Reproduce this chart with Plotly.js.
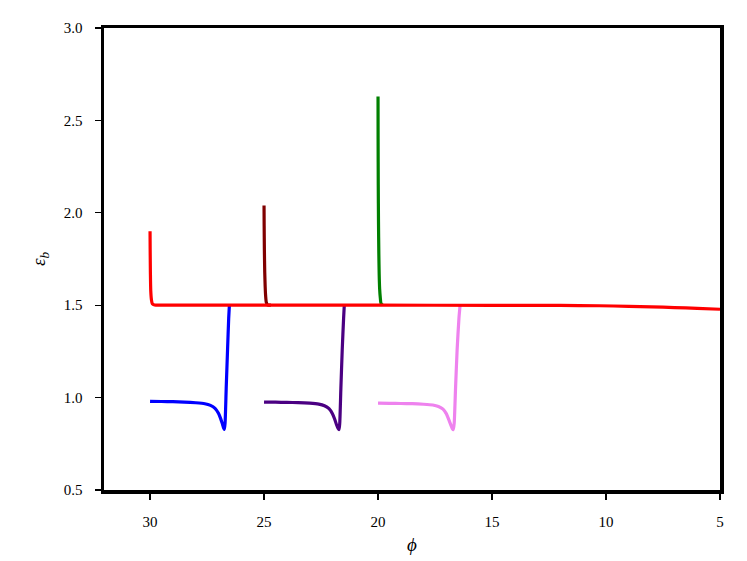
<!DOCTYPE html>
<html>
<head>
<meta charset="utf-8">
<script src="https://cdn.plot.ly/plotly-3.0.1.min.js"></script>
<style>html,body{margin:0;padding:0;background:#fff;}#chart{width:747px;height:561px;}</style>
</head>
<body>
<div id="chart"></div>
<script>
// Upper branches (epsilon_b above 1.5)
const redX = [30, 29.995, 29.985, 29.97, 29.94, 29.9, 29.8, 29.5, 28, 25, 20, 15, 12, 10.3, 9, 8, 7, 6, 5];
const redY = [1.90, 1.80, 1.68, 1.58, 1.53, 1.508, 1.501, 1.5, 1.5, 1.5, 1.5, 1.4995, 1.499, 1.497, 1.494, 1.491, 1.487, 1.483, 1.478];

const maroonX = [25, 24.995, 24.985, 24.97, 24.95, 24.93, 24.9, 24.85, 24.7];
const maroonY = [2.04, 1.93, 1.80, 1.68, 1.60, 1.55, 1.515, 1.502, 1.5];

const greenX = [20, 19.997, 19.99, 19.98, 19.965, 19.95, 19.93, 19.9, 19.87, 19.8];
const greenY = [2.63, 2.40, 2.15, 1.95, 1.78, 1.67, 1.59, 1.54, 1.51, 1.5];

// Lower branches (dip then rise to 1.5)
const blueX = [30, 29.5, 29, 28.5, 28, 27.6, 27.35, 27.15, 27.0, 26.9, 26.82, 26.77, 26.74, 26.71, 26.66, 26.6, 26.55, 26.52];
const blueY = [0.980, 0.979, 0.978, 0.976, 0.972, 0.967, 0.958, 0.942, 0.915, 0.885, 0.855, 0.835, 0.828, 0.86, 1.05, 1.26, 1.43, 1.5];

const indigoX = [25, 24.5, 24, 23.5, 23, 22.6, 22.35, 22.15, 22.0, 21.9, 21.82, 21.75, 21.71, 21.68, 21.63, 21.57, 21.51, 21.48];
const indigoY = [0.976, 0.975, 0.974, 0.973, 0.970, 0.965, 0.956, 0.940, 0.913, 0.883, 0.853, 0.833, 0.827, 0.86, 1.05, 1.26, 1.43, 1.5];

const violetX = [20, 19.5, 19, 18.5, 18, 17.6, 17.35, 17.15, 17.0, 16.9, 16.8, 16.74, 16.70, 16.66, 16.6, 16.53, 16.45, 16.40];
const violetY = [0.970, 0.969, 0.968, 0.967, 0.964, 0.960, 0.952, 0.938, 0.912, 0.882, 0.850, 0.832, 0.826, 0.86, 1.05, 1.26, 1.43, 1.5];

const xTicks = [30, 25, 20, 15, 10, 5];
const yTicks = [0.5, 1.0, 1.5, 2.0, 2.5, 3.0];

function line(x, y, color) {
  return {x: x, y: y, type: 'scatter', mode: 'lines', line: {color: color, width: 3.2, shape: 'spline', smoothing: 0.6}, hoverinfo: 'skip'};
}

const traces = [
  line(maroonX, maroonY, '#800000'),
  line(greenX, greenY, '#008000'),
  line(blueX, blueY, '#0000ff'),
  line(indigoX, indigoY, '#4b0082'),
  line(violetX, violetY, '#ee82ee'),
  line(redX, redY, '#ff0000')
];

const font = {family: 'Liberation Serif, DejaVu Serif, serif', size: 15, color: '#000'};

const layout = {
  width: 747, height: 561,
  margin: {l: 104, r: 27, t: 28, b: 71, pad: 0},
  paper_bgcolor: '#fff', plot_bgcolor: '#fff',
  showlegend: false,
  font: font,
  xaxis: {
    range: [32.02, 5], autorange: false,
    tickvals: xTicks, ticktext: xTicks.map(String),
    showgrid: false, zeroline: false,
    showline: true, linecolor: '#000', linewidth: 3.5, mirror: true,
    ticks: 'outside', ticklen: 6, tickwidth: 1.2, tickcolor: '#000',
    ticklabelstandoff: 9,
    tickfont: font,
    title: {text: '<i>ϕ</i>', font: {family: 'Liberation Serif, serif', size: 19}, standoff: 10}
  },
  yaxis: {
    range: [0.5, 3.0], autorange: false,
    tickvals: yTicks, ticktext: yTicks.map(v => v.toFixed(1)),
    showgrid: false, zeroline: false,
    showline: true, linecolor: '#000', linewidth: 3.5, mirror: true,
    ticks: 'outside', ticklen: 6, tickwidth: 1.2, tickcolor: '#000',
    ticklabelstandoff: 9,
    tickfont: font,
    title: {text: '<i>ε<sub>b</sub></i>', font: {family: 'Liberation Serif, serif', size: 19}, standoff: 14}
  }
};

Plotly.newPlot('chart', traces, layout, {staticPlot: true, displayModeBar: false});
</script>
</body>
</html>
